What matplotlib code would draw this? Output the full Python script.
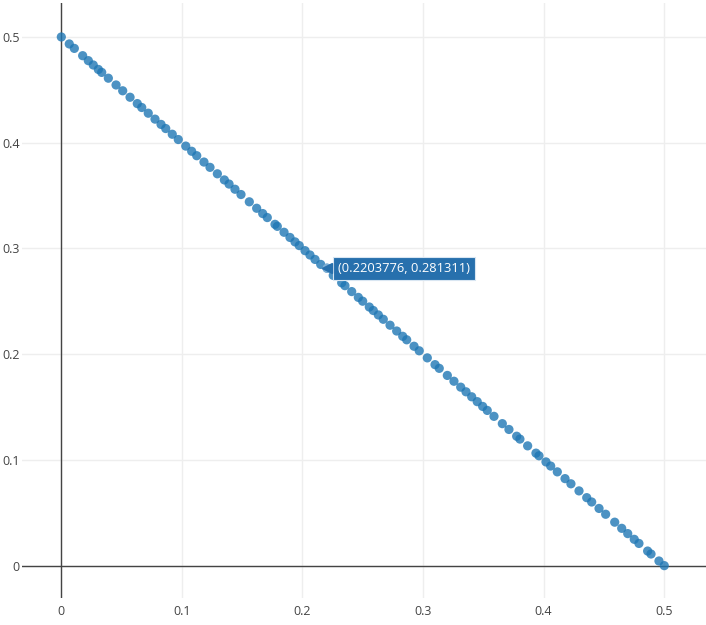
import numpy as np
import matplotlib.pyplot as plt

# point coordinates
xs = [0.0000, 0.0066, 0.0108, 0.0177, 0.0224, 0.0265, 0.0307, 0.0335, 0.0390, 0.0454,
      0.0509, 0.0570, 0.0630, 0.0667, 0.0721, 0.0777, 0.0827, 0.0866, 0.0920, 0.0970,
      0.1032, 0.1081, 0.1123, 0.1183, 0.1233, 0.1294, 0.1352, 0.1391, 0.1440, 0.1490,
      0.1559, 0.1620, 0.1670, 0.1708, 0.1772, 0.1791, 0.1847, 0.1896, 0.1938, 0.1973,
      0.2021, 0.2062, 0.2104, 0.2151, 0.2203776, 0.2255, 0.2325, 0.2352, 0.2408, 0.2463,
      0.2499, 0.2554, 0.2587, 0.2629, 0.2670, 0.2726, 0.2781, 0.2831, 0.2864, 0.2925,
      0.2968, 0.3035, 0.3099, 0.3134, 0.3201, 0.3256, 0.3312, 0.3356, 0.3403, 0.3449,
      0.3494, 0.3532, 0.3588, 0.3657, 0.3712, 0.3776, 0.3803, 0.3867, 0.3936, 0.3961,
      0.4019, 0.4058, 0.4113, 0.4177, 0.4226, 0.4293, 0.4357, 0.4398, 0.4459, 0.4514,
      0.4589, 0.4647, 0.4697, 0.4751, 0.4790, 0.4862, 0.4890, 0.4956, 0.5000]
ys = [0.5000, 0.4934, 0.4892, 0.4823, 0.4776, 0.4735, 0.4693, 0.4665, 0.4610, 0.4546,
      0.4491, 0.4430, 0.4370, 0.4333, 0.4279, 0.4223, 0.4173, 0.4134, 0.4080, 0.4030,
      0.3968, 0.3919, 0.3877, 0.3817, 0.3767, 0.3706, 0.3648, 0.3609, 0.3560, 0.3510,
      0.3441, 0.3380, 0.3330, 0.3292, 0.3228, 0.3209, 0.3153, 0.3104, 0.3062, 0.3027,
      0.2979, 0.2938, 0.2896, 0.2849, 0.281311, 0.2745, 0.2675, 0.2648, 0.2592, 0.2537,
      0.2501, 0.2446, 0.2413, 0.2371, 0.2330, 0.2274, 0.2219, 0.2169, 0.2136, 0.2075,
      0.2032, 0.1965, 0.1901, 0.1866, 0.1799, 0.1744, 0.1688, 0.1644, 0.1597, 0.1551,
      0.1506, 0.1468, 0.1412, 0.1343, 0.1288, 0.1224, 0.1197, 0.1133, 0.1064, 0.1039,
      0.0981, 0.0942, 0.0887, 0.0823, 0.0774, 0.0707, 0.0643, 0.0602, 0.0541, 0.0486,
      0.0411, 0.0353, 0.0303, 0.0249, 0.0210, 0.0138, 0.0110, 0.0044, 0.0000]

ticks = [0, 0.1, 0.2, 0.3, 0.4, 0.5]
tick_labels = ['0', '0.1', '0.2', '0.3', '0.4', '0.5']
hover_idx = 44  # the point with the tooltip

plt.rcParams['font.family'] = ['Open Sans', 'DejaVu Sans']

fig = plt.figure(figsize=(7.06, 6.25), dpi=100)
ax = fig.add_axes([22 / 706, 27 / 625, 684 / 706, 595.5 / 625])

ax.scatter(xs, ys, s=44, color='#1f77b4', alpha=0.8, edgecolors='none', zorder=3)

ax.set_xlim(-0.0326, 0.5346)
ax.set_ylim(-0.0306, 0.5326)

ax.set_xticks(ticks)
ax.set_xticklabels(tick_labels)
ax.set_yticks(ticks)
ax.set_yticklabels(tick_labels)
ax.tick_params(axis='both', length=0, labelsize=9, labelcolor='#444444')
ax.tick_params(axis='x', pad=5)
ax.tick_params(axis='y', pad=1.5)

for s in ax.spines.values():
    s.set_visible(False)
ax.grid(True, color='#eeeeee', lw=1)
ax.set_axisbelow(True)
ax.axhline(0, color='#444444', lw=1, zorder=2)
ax.axvline(0, color='#444444', lw=1, zorder=2)

# tooltip
hx, hy = xs[hover_idx], ys[hover_idx]
ax.scatter([hx], [hy], s=44, color='#7fb0d6', edgecolors='none', zorder=4)
ax.annotate('(%s, %s)' % (hx, hy), xy=(hx, hy), xytext=(8, 0),
            textcoords='offset points', ha='left', va='center',
            fontsize=9.3, color='white', zorder=5,
            bbox=dict(boxstyle='square,pad=0.38', fc='#2770ad', ec='#d9e6f2', lw=0.8))
ax.plot([hx], [hy], marker='<', markersize=7, color='#2770ad',
        linestyle='none', zorder=5)

fig.savefig('out.png', dpi=100)
